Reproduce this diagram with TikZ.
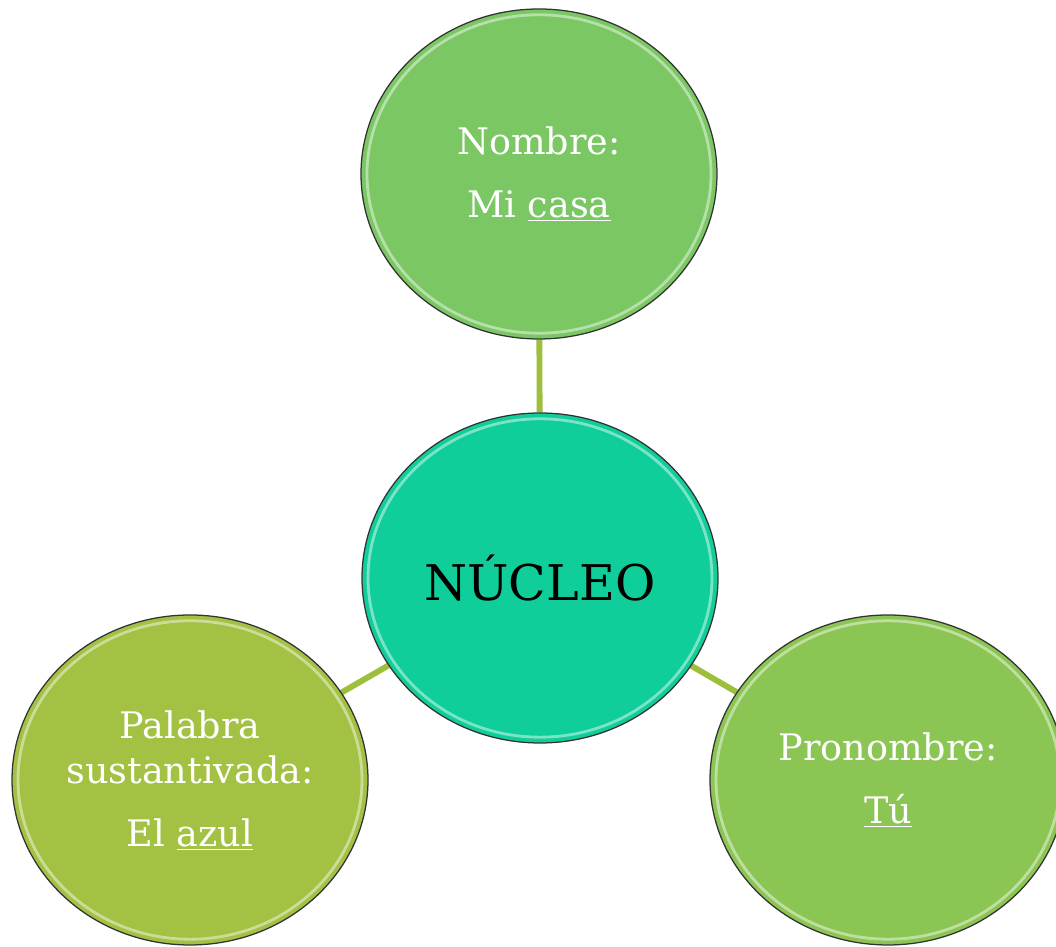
\documentclass[tikz,border=0pt]{standalone}
\usepackage{fontspec}
\setmainfont{DejaVu Serif}
\usetikzlibrary{shapes.geometric,backgrounds}
\definecolor{verdeA}{RGB}{122,199,99}
\definecolor{verdeB}{RGB}{139,197,83}
\definecolor{verdeC}{RGB}{163,193,67}
\definecolor{turquesa}{RGB}{16,206,154}
\definecolor{enlace}{RGB}{157,191,59}
\begin{document}
\begin{tikzpicture}[line join=round, line cap=round,
	burbuja/.style={ellipse, draw=black!80, line width=0.9pt, inner sep=0pt,
		minimum width=8.9cm, minimum height=8.25cm, text=white, align=center,
		font=\fontsize{26}{30}\selectfont,
		path picture={\draw[white, opacity=.45, line width=2pt]
			(path picture bounding box.center) ellipse (4.3cm and 3.98cm);}},
	nucleo/.style={burbuja, text=black, font=\fontsize{35}{40}\selectfont},
	enlace/.style={draw=enlace, line width=4.2pt}]
	\def\W{26.4} \def\H{23.675} % 1056 x 947
	\useasboundingbox (0,0) rectangle (\W,\H);
	\node[nucleo, fill=turquesa] (nucleo) at (13.5,9.225) {NÚCLEO};
	\node[burbuja, fill=verdeA] (nombre) at (13.475,19.325)
		{Nombre:\\[15pt] Mi \underline{casa}};
	\node[burbuja, fill=verdeC] (palabra) at (4.75,4.175)
		{Palabra\\[2pt] sustantivada:\\[15pt] El \underline{azul}};
	\node[burbuja, fill=verdeB] (pronombre) at (22.2,4.175)
		{Pronombre:\\[15pt] \underline{Tú}};
	\begin{pgfonlayer}{background}
		\fill[white] (0,0) rectangle (\W,\H);
		\draw[enlace] (nucleo) -- (nombre);
		\draw[enlace] (nucleo) -- (palabra);
		\draw[enlace] (nucleo) -- (pronombre);
	\end{pgfonlayer}
\end{tikzpicture}
\end{document}
